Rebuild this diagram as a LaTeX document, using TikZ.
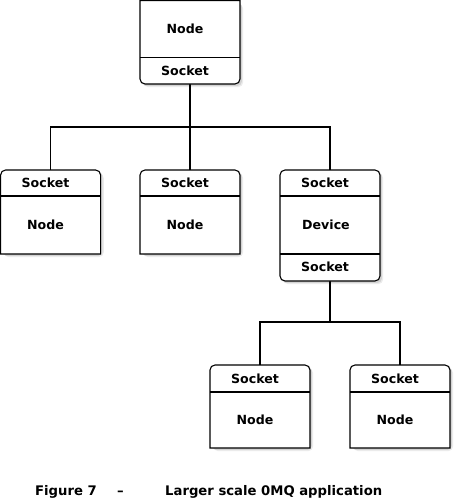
\documentclass[tikz,border=0pt]{standalone}
\usepackage{fontspec}
\setmainfont{DejaVu Sans}
\tikzset{
  lbl/.style={font=\bfseries\fontsize{12.6}{15}\selectfont, inner sep=0pt},
  captext/.style={font=\bfseries\fontsize{13.2}{15}\selectfont, inner sep=0pt, anchor=base west},
  frame/.style={draw=black, line width=1.1pt, fill=white},
  conn/.style={draw=black, line width=1.1pt},
  shadeA/.style={fill=black, opacity=0.10, rounded corners=4pt},
  shadeB/.style={fill=black, opacity=0.08, rounded corners=5pt},
  area/.style={rectangle, draw=none, inner sep=0pt, outer sep=0pt, minimum width=100pt, minimum height=#1}
}
\newcommand{\boxshade}[1]{%
  \fill[shadeB] ([shift={(3.2,-3.2)}]#1.south west) rectangle ([shift={(3.2,-3.2)}]#1.north east);
  \fill[shadeA] ([shift={(1.8,-1.8)}]#1.south west) rectangle ([shift={(1.8,-1.8)}]#1.north east);}
\newcommand{\toprbox}[1]{%
  \boxshade{#1}
  \draw[frame] (#1.south west) -- ([yshift=-5pt]#1.north west) arc[start angle=180,end angle=90,radius=5pt]
    -- ([xshift=-5pt]#1.north east) arc[start angle=90,end angle=0,radius=5pt] -- (#1.south east) -- cycle;}
\newcommand{\botrbox}[1]{%
  \boxshade{#1}
  \draw[frame] (#1.north west) -- ([yshift=5pt]#1.south west) arc[start angle=180,end angle=270,radius=5pt]
    -- ([xshift=-5pt]#1.south east) arc[start angle=270,end angle=360,radius=5pt] -- (#1.north east) -- cycle;}
\newcommand{\allrbox}[1]{%
  \boxshade{#1}
  \draw[frame, rounded corners=5pt] (#1.south west) rectangle (#1.north east);}
\newcommand{\divider}[2]{%
  \draw[conn] ([yshift=-#2]#1.north west) -- ([yshift=-#2]#1.north east);}
\begin{document}
\begin{tikzpicture}[x=1pt,y=1pt]
  \useasboundingbox (0,0) rectangle (456,-498);
  % box areas
  \node[area=83.4pt] (top) at (190,-42.3) {};
  \node[area=84pt] (l) at (50.6,-212) {};
  \node[area=84pt] (m) at (190,-212) {};
  \node[area=111pt] (dev) at (330,-225.5) {};
  \node[area=83pt] (bl) at (260,-406.5) {};
  \node[area=83pt] (br) at (400,-406.5) {};
  \coordinate (bus1) at (190,-127);
  \coordinate (bus2) at (330,-322);
  % connectors
  \draw[conn] (top.south) -- (m.north);
  \draw[conn] (l.north) |- (bus1) -| (dev.north);
  \draw[conn] (dev.south) -- (bus2);
  \draw[conn] (bl.north) |- (bus2) -| (br.north);
  % boxes
  \botrbox{top} \divider{top}{57pt}
  \toprbox{l} \divider{l}{26pt}
  \toprbox{m} \divider{m}{26pt}
  \allrbox{dev} \divider{dev}{26pt} \divider{dev}{84pt}
  \toprbox{bl} \divider{bl}{27pt}
  \toprbox{br} \divider{br}{27pt}
  % labels
  \node[lbl] (topn) at (185,-28.5) {Node};
  \node[lbl] (tops) at (185,-70.5) {Socket};
  \node[lbl] (ls) at (45.5,-182.5) {Socket};
  \node[lbl] (ln) at (45.5,-224.5) {Node};
  \node[lbl] (ms) at (185,-182.5) {Socket};
  \node[lbl] (mn) at (185,-224.5) {Node};
  \node[lbl] (ds) at (325,-182.5) {Socket};
  \node[lbl] (dd) at (326,-224.5) {Device};
  \node[lbl] (ds2) at (325,-267) {Socket};
  \node[lbl] (bls) at (255,-378.5) {Socket};
  \node[lbl] (bln) at (255,-420) {Node};
  \node[lbl] (brs) at (395,-378.5) {Socket};
  \node[lbl] (brn) at (395,-420) {Node};
  % caption
  \node[captext] (c1) at (35,-495) {Figure 7};
  \node[captext] (c2) at (117,-495) {–};
  \node[captext] (c3) at (165,-495) {Larger scale 0MQ application};
\end{tikzpicture}
\end{document}
